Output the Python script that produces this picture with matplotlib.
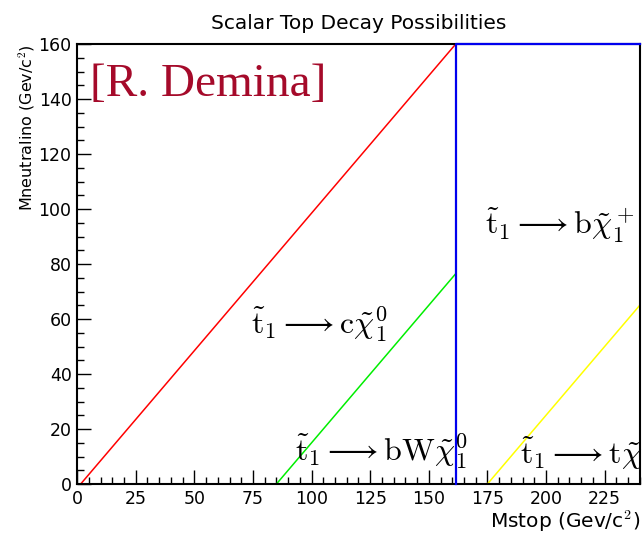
import matplotlib
matplotlib.use('Agg')
import matplotlib.pyplot as plt
from matplotlib.ticker import MultipleLocator

plt.rcParams['mathtext.fontset'] = 'cm'

# kinematic boundaries (mstop, mneutralino)
red_x = [1.5, 161.5]
red_y = [0, 160]
green_x = [85, 161.5]
green_y = [0, 76.5]
blue_x = [161.5, 161.5, 240]
blue_y = [0, 160, 160]
yellow_x = [175, 240]
yellow_y = [0, 65]

fig = plt.figure(figsize=(6.43, 5.34), dpi=100)
ax = fig.add_axes([0.12, 0.0936, 0.875, 0.824])

ax.plot(red_x, red_y, color='#ff0000', lw=1.1, clip_on=False)
ax.plot(green_x, green_y, color='#00ee00', lw=1.1, clip_on=False)
ax.plot(yellow_x, yellow_y, color='#ffff00', lw=1.1, clip_on=False)
ax.plot(blue_x, blue_y, color='#0000ee', lw=1.6, clip_on=False, zorder=5)

ax.set_xlim(0, 240)
ax.set_ylim(0, 160)
ax.xaxis.set_major_locator(MultipleLocator(25))
ax.xaxis.set_minor_locator(MultipleLocator(5))
ax.yaxis.set_major_locator(MultipleLocator(20))
ax.yaxis.set_minor_locator(MultipleLocator(5))
ax.tick_params(which='major', direction='in', length=10, width=1, labelsize=12.5, pad=4)
ax.tick_params(which='minor', direction='in', length=5, width=1)
for s in ax.spines.values():
    s.set_linewidth(1.5)

ax.set_title('Scalar Top Decay Possibilities', fontsize=14.5, pad=11)
ax.set_xlabel('Mstop (Gev/c$^2$)', fontsize=14.5, loc='right', labelpad=1)
ax.set_ylabel('Mneutralino (Gev/c$^2$)', fontsize=11.5, loc='top', labelpad=1)

ax.text(5.5, 153, '[R. Demina]', fontsize=34, color='#a50a2a',
        family='Liberation Serif', va='top', ha='left')

math_kw = dict(fontsize=23, ha='left', va='center', clip_on=False)
ax.text(74, 58, r'$\tilde{\mathrm{t}}_1 \longrightarrow \mathrm{c}\tilde{\chi}_1^0$', **math_kw)
ax.text(174, 94, r'$\tilde{\mathrm{t}}_1 \longrightarrow \mathrm{b}\tilde{\chi}_1^+$', **math_kw)
ax.text(93, 12, r'$\tilde{\mathrm{t}}_1 \longrightarrow \mathrm{bW}\tilde{\chi}_1^0$', **math_kw)
ax.text(189, 11, r'$\tilde{\mathrm{t}}_1 \longrightarrow \mathrm{t}\tilde{\chi}_1^0$', **math_kw)

fig.savefig('out.png', dpi=100)
